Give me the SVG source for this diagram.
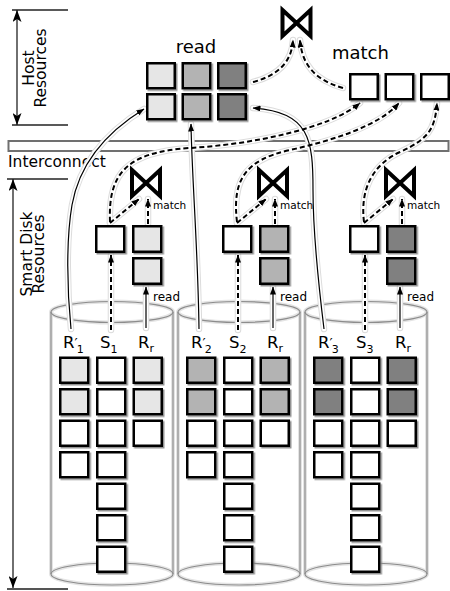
<svg xmlns="http://www.w3.org/2000/svg" width="450" height="591" viewBox="0 0 450 591">
<defs>
<style>
text{font-family:"DejaVu Sans","Liberation Sans",sans-serif;fill:#000}
.t16{font-size:15.5px}
.big{font-size:18px}
.lbl{font-size:16.5px}
.sub{font-size:11px}
.pr{font-size:14px}
.sm{font-size:10.5px}
.rd{font-size:12px}
.box{stroke:#000;stroke-width:2.5}
.w{fill:#fff}.l{fill:#e6e6e6}.m{fill:#b3b3b3}.d{fill:#808080}
.boxes{filter:url(#sh)}
.cyl{fill:none;stroke:#8c8c8c;stroke-width:1.2}
.cylh{fill:none;stroke:#e4e4e4;stroke-width:4}
.h1{fill:none;stroke:#dcdcdc;stroke-width:6.5;stroke-linecap:round}
.h2{fill:none;stroke:#fff;stroke-width:4.5;stroke-linecap:round}
.sol{fill:none;stroke:#000;stroke-width:1.2;marker-end:url(#ah)}
.dsh{fill:none;stroke:#000;stroke-width:2;stroke-dasharray:5 3;marker-end:url(#ah)}
.join{fill:none;stroke:#000;stroke-width:4;stroke-linejoin:miter}
.dim{stroke:#222;stroke-width:1.3;fill:none}
</style>
<filter id="sh" x="-10%" y="-10%" width="130%" height="130%"><feDropShadow dx="1.5" dy="1.5" stdDeviation="0.6" flood-color="#777" flood-opacity="0.8"/></filter>
<marker id="ah" viewBox="0 0 8 6" refX="7.5" refY="3" markerWidth="8" markerHeight="6" markerUnits="userSpaceOnUse" orient="auto"><path d="M0,0 L8,3 L0,6 Z" fill="#000"/></marker>
<marker id="dm" viewBox="0 0 12 9" refX="12" refY="4.5" markerWidth="12" markerHeight="9" markerUnits="userSpaceOnUse" orient="auto-start-reverse"><path d="M0,0 L12,4.5 L0,9 L3,4.5 Z" fill="#000"/></marker>
<path id="bow" d="M-14,-13 L14,13 L14,-13 L-14,13 Z"/>
<path id="c1" d="M71,329 C67,290 66,240 72,205 C80,160 110,130 144,109"/>
<path id="c2" d="M199,329 C198,250 192,180 191,124"/>
<path id="c3" d="M324,329 C318,280 313,230 313,190 C313,140 310,112 253,108"/>
<path id="r1" d="M146,328 L146,287"/>
<path id="r2" d="M273,328 L273,287"/>
<path id="r3" d="M400,328 L400,287"/>
<path id="s1" d="M111,330 L111,255"/>
<path id="s2" d="M238,330 L238,255"/>
<path id="s3" d="M365,330 L365,255"/>
<path id="k1" d="M148,224 L148,199"/>
<path id="k2" d="M275,224 L275,199"/>
<path id="k3" d="M402,224 L402,199"/>
<path id="g1" d="M110,223 L139,199"/>
<path id="g2" d="M237,223 L266,199"/>
<path id="g3" d="M364,223 L393,199"/>
<path id="m1" d="M110,222 C108,175 125,152 190,148 C255,144 330,128 360,103"/>
<path id="m2" d="M237,222 C232,180 245,160 290,150 C335,140 380,125 399,103"/>
<path id="m3" d="M364,222 C360,190 372,165 400,152 C428,139 435,130 437,103"/>
<path id="t1" d="M253,82 C280,75 292,60 293,40"/>
<path id="t2" d="M343,88 C315,80 302,65 300,40"/>
</defs>
<rect width="450" height="591" fill="#fff"/>

<g id="host-resources-dim">
<line class="dim" x1="12" y1="10" x2="68" y2="10"/>
<line class="dim" x1="12" y1="125" x2="68" y2="125"/>
<line class="dim" x1="17" y1="10" x2="17" y2="125" marker-start="url(#dm)" marker-end="url(#dm)"/>
<text class="t16" text-anchor="middle" transform="translate(34,68) rotate(-90)">Host</text>
<text class="t16" text-anchor="middle" transform="translate(46,68) rotate(-90)">Resources</text>
</g>

<g id="smart-disk-dim">
<line class="dim" x1="7" y1="179" x2="68" y2="179"/>
<line class="dim" x1="7" y1="589" x2="68" y2="589" style="stroke:#555;stroke-width:2"/>
<line class="dim" x1="13" y1="179" x2="13" y2="588" marker-start="url(#dm)" marker-end="url(#dm)"/>
<text class="t16" text-anchor="middle" transform="translate(32,254) rotate(-90)">Smart Disk</text>
<text class="t16" text-anchor="middle" transform="translate(43.5,254) rotate(-90)">Resources</text>
</g>

<g id="disk1">
<g class="cylinder">
<ellipse class="cylh" cx="112" cy="312" rx="61" ry="10.5"/><ellipse class="cylh" cx="112" cy="574" rx="61" ry="11"/>
<path class="cylh" d="M51,312 V574 M173,312 V574"/>
<ellipse class="cyl" cx="112" cy="312" rx="61" ry="10.5"/><ellipse class="cyl" cx="112" cy="574" rx="61" ry="11"/>
<path class="cyl" d="M51,312 V574 M173,312 V574"/>
</g>
<g class="boxes">
<rect class="box l" x="60.25" y="357.75" width="28" height="25"/>
<rect class="box l" x="60.25" y="389.25" width="28" height="25"/>
<rect class="box w" x="60.25" y="420.75" width="28" height="25"/>
<rect class="box w" x="60.25" y="452.25" width="28" height="25"/>
<rect class="box w" x="97.25" y="357.75" width="28" height="25"/>
<rect class="box w" x="97.25" y="389.25" width="28" height="25"/>
<rect class="box w" x="97.25" y="420.75" width="28" height="25"/>
<rect class="box w" x="97.25" y="452.25" width="28" height="25"/>
<rect class="box w" x="97.25" y="483.75" width="28" height="25"/>
<rect class="box w" x="97.25" y="515.25" width="28" height="25"/>
<rect class="box w" x="97.25" y="546.75" width="28" height="25"/>
<rect class="box l" x="133.75" y="357.75" width="28" height="25"/>
<rect class="box l" x="133.75" y="389.25" width="28" height="25"/>
<rect class="box w" x="133.75" y="420.75" width="28" height="25"/>
</g>
</g>

<g id="disk2">
<g class="cylinder">
<ellipse class="cylh" cx="239" cy="312" rx="61" ry="10.5"/><ellipse class="cylh" cx="239" cy="574" rx="61" ry="11"/>
<path class="cylh" d="M178,312 V574 M300,312 V574"/>
<ellipse class="cyl" cx="239" cy="312" rx="61" ry="10.5"/><ellipse class="cyl" cx="239" cy="574" rx="61" ry="11"/>
<path class="cyl" d="M178,312 V574 M300,312 V574"/>
</g>
<g class="boxes">
<rect class="box m" x="187.25" y="357.75" width="28" height="25"/>
<rect class="box m" x="187.25" y="389.25" width="28" height="25"/>
<rect class="box w" x="187.25" y="420.75" width="28" height="25"/>
<rect class="box w" x="187.25" y="452.25" width="28" height="25"/>
<rect class="box w" x="224.25" y="357.75" width="28" height="25"/>
<rect class="box w" x="224.25" y="389.25" width="28" height="25"/>
<rect class="box w" x="224.25" y="420.75" width="28" height="25"/>
<rect class="box w" x="224.25" y="452.25" width="28" height="25"/>
<rect class="box w" x="224.25" y="483.75" width="28" height="25"/>
<rect class="box w" x="224.25" y="515.25" width="28" height="25"/>
<rect class="box w" x="224.25" y="546.75" width="28" height="25"/>
<rect class="box m" x="260.75" y="357.75" width="28" height="25"/>
<rect class="box m" x="260.75" y="389.25" width="28" height="25"/>
<rect class="box w" x="260.75" y="420.75" width="28" height="25"/>
</g>
</g>

<g id="disk3">
<g class="cylinder">
<ellipse class="cylh" cx="366" cy="312" rx="61" ry="10.5"/><ellipse class="cylh" cx="366" cy="574" rx="61" ry="11"/>
<path class="cylh" d="M305,312 V574 M427,312 V574"/>
<ellipse class="cyl" cx="366" cy="312" rx="61" ry="10.5"/><ellipse class="cyl" cx="366" cy="574" rx="61" ry="11"/>
<path class="cyl" d="M305,312 V574 M427,312 V574"/>
</g>
<g class="boxes">
<rect class="box d" x="314.25" y="357.75" width="28" height="25"/>
<rect class="box d" x="314.25" y="389.25" width="28" height="25"/>
<rect class="box w" x="314.25" y="420.75" width="28" height="25"/>
<rect class="box w" x="314.25" y="452.25" width="28" height="25"/>
<rect class="box w" x="351.25" y="357.75" width="28" height="25"/>
<rect class="box w" x="351.25" y="389.25" width="28" height="25"/>
<rect class="box w" x="351.25" y="420.75" width="28" height="25"/>
<rect class="box w" x="351.25" y="452.25" width="28" height="25"/>
<rect class="box w" x="351.25" y="483.75" width="28" height="25"/>
<rect class="box w" x="351.25" y="515.25" width="28" height="25"/>
<rect class="box w" x="351.25" y="546.75" width="28" height="25"/>
<rect class="box d" x="387.75" y="357.75" width="28" height="25"/>
<rect class="box d" x="387.75" y="389.25" width="28" height="25"/>
<rect class="box w" x="387.75" y="420.75" width="28" height="25"/>
</g>
</g>

<g id="interconnect">
<rect x="8.5" y="141" width="440" height="10" fill="#fff" stroke="#707070" stroke-width="2"/>
<text class="t16" x="8" y="167">Interconnect</text>
</g>

<g id="connectors">
<g class="halos">
<use href="#c1" class="h1"/><use href="#c2" class="h1"/><use href="#c3" class="h1"/>
<use href="#r1" class="h1"/><use href="#r2" class="h1"/><use href="#r3" class="h1"/>
<use href="#s1" class="h1"/><use href="#s2" class="h1"/><use href="#s3" class="h1"/>
<use href="#k1" class="h1"/><use href="#k2" class="h1"/><use href="#k3" class="h1"/>
<use href="#g1" class="h1"/><use href="#g2" class="h1"/><use href="#g3" class="h1"/>
<use href="#m1" class="h1"/><use href="#m2" class="h1"/><use href="#m3" class="h1"/>
<use href="#t1" class="h1"/><use href="#t2" class="h1"/>
<use href="#c1" class="h2"/><use href="#c2" class="h2"/><use href="#c3" class="h2"/>
<use href="#r1" class="h2"/><use href="#r2" class="h2"/><use href="#r3" class="h2"/>
<use href="#s1" class="h2"/><use href="#s2" class="h2"/><use href="#s3" class="h2"/>
<use href="#k1" class="h2"/><use href="#k2" class="h2"/><use href="#k3" class="h2"/>
<use href="#g1" class="h2"/><use href="#g2" class="h2"/><use href="#g3" class="h2"/>
<use href="#m1" class="h2"/><use href="#m2" class="h2"/><use href="#m3" class="h2"/>
<use href="#t1" class="h2"/><use href="#t2" class="h2"/>
</g>
<use href="#c1" class="sol"/><use href="#c2" class="sol"/><use href="#c3" class="sol"/>
<use href="#r1" class="sol"/><use href="#r2" class="sol"/><use href="#r3" class="sol"/>
<use href="#s1" class="dsh"/><use href="#s2" class="dsh"/><use href="#s3" class="dsh"/>
<use href="#k1" class="dsh"/><use href="#k2" class="dsh"/><use href="#k3" class="dsh"/>
<use href="#g1" class="dsh"/><use href="#g2" class="dsh"/><use href="#g3" class="dsh"/>
<use href="#m1" class="dsh"/><use href="#m2" class="dsh"/><use href="#m3" class="dsh"/>
<use href="#t1" class="dsh"/><use href="#t2" class="dsh"/>
</g>

<g id="host-read-grid">
<text class="big" x="196" y="53" text-anchor="middle">read</text>
<g class="boxes">
<rect class="box l" x="147.25" y="63.25" width="27.5" height="25"/>
<rect class="box m" x="182.75" y="63.25" width="27.5" height="25"/>
<rect class="box d" x="218.25" y="63.25" width="27.5" height="25"/>
<rect class="box l" x="147.25" y="94.25" width="27.5" height="25"/>
<rect class="box m" x="182.75" y="94.25" width="27.5" height="25"/>
<rect class="box d" x="218.25" y="94.25" width="27.5" height="25"/>
</g>
</g>

<g id="host-match">
<text class="big" x="332" y="59">match</text>
<g class="boxes">
<rect class="box w" x="350.25" y="74.25" width="27.5" height="25"/>
<rect class="box w" x="385.75" y="74.25" width="27.5" height="25"/>
<rect class="box w" x="421.25" y="74.25" width="27.5" height="25"/>
</g>
</g>

<g id="host-join"><use href="#bow" class="join" x="296.5" y="23"/></g>

<g id="disk1-ops">
<g class="boxes">
<rect class="box w" x="96.25" y="226.25" width="28" height="25.5"/>
<rect class="box l" x="133.25" y="226.25" width="28" height="25.5"/>
<rect class="box l" x="133.25" y="258.25" width="28" height="25.5"/>
</g>
<use href="#bow" class="join" x="146" y="183"/>
<text class="sm" x="153" y="209">match</text>
<text class="rd" x="153" y="301">read</text>
</g>
<g id="disk2-ops">
<g class="boxes">
<rect class="box w" x="223.25" y="226.25" width="28" height="25.5"/>
<rect class="box m" x="260.25" y="226.25" width="28" height="25.5"/>
<rect class="box m" x="260.25" y="258.25" width="28" height="25.5"/>
</g>
<use href="#bow" class="join" x="273" y="183"/>
<text class="sm" x="280" y="209">match</text>
<text class="rd" x="280" y="301">read</text>
</g>
<g id="disk3-ops">
<g class="boxes">
<rect class="box w" x="350.25" y="226.25" width="28" height="25.5"/>
<rect class="box d" x="387.25" y="226.25" width="28" height="25.5"/>
<rect class="box d" x="387.25" y="258.25" width="28" height="25.5"/>
</g>
<use href="#bow" class="join" x="400" y="183"/>
<text class="sm" x="407" y="209">match</text>
<text class="rd" x="407" y="301">read</text>
</g>

<g id="labels">
<text class="lbl" x="63" y="348">R<tspan class="pr">′</tspan><tspan class="sub" dx="-1" dy="4.5">1</tspan></text>
<text class="lbl" x="100" y="348">S<tspan class="sub" dy="4.5">1</tspan></text>
<text class="lbl" x="138" y="348">R<tspan class="sub" dy="4">r</tspan></text>
<text class="lbl" x="191" y="348">R<tspan class="pr">′</tspan><tspan class="sub" dx="-1" dy="4.5">2</tspan></text>
<text class="lbl" x="229" y="348">S<tspan class="sub" dy="4.5">2</tspan></text>
<text class="lbl" x="267" y="348">R<tspan class="sub" dy="4">r</tspan></text>
<text class="lbl" x="318" y="348">R<tspan class="pr">′</tspan><tspan class="sub" dx="-1" dy="4.5">3</tspan></text>
<text class="lbl" x="356" y="348">S<tspan class="sub" dy="4.5">3</tspan></text>
<text class="lbl" x="395" y="348">R<tspan class="sub" dy="4">r</tspan></text>
</g>
</svg>
